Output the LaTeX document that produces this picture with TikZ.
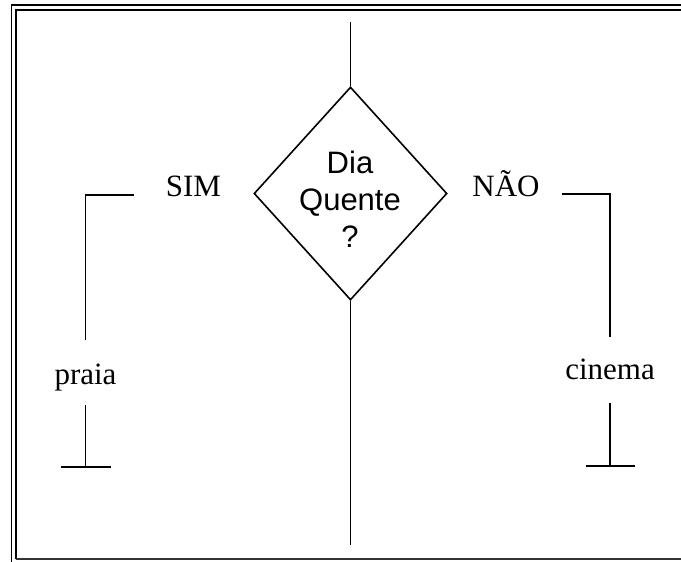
\documentclass[tikz,border=0pt]{standalone}
\usepackage{fontspec}
\setmainfont{Liberation Serif}
\newfontfamily\arialf{Liberation Sans}
\usetikzlibrary{shapes.geometric}
\begin{document}
\begin{tikzpicture}[x=1pt,y=-1pt,
  ln/.style={line width=1.6pt, black},
  bd/.style={line width=1.8pt, black},
  lbl/.style={font=\fontsize{31}{37}\selectfont, inner sep=0pt, anchor=base},
  dec/.style={diamond, draw, line width=1.6pt, minimum width=193pt, minimum height=213pt, inner sep=0pt}]
\useasboundingbox (0,0) rectangle (681,562);
% border
\draw[bd] (11.5,562) -- (11.5,5) -- (681,5);
\draw[bd] (16,559) -- (16,10) -- (681,10);
\draw[line width=1.4pt, black!80] (16,559) -- (681,559);
% decision
\node[dec] (d) at (350.5,193.5) {};
\node[font=\arialf\fontsize{31}{37}\selectfont, align=center, inner sep=0pt] (dt) at (350,199) {Dia\\Quente\\?};
\coordinate (top) at (350.5,22);
\coordinate (bot) at (350.5,545);
\draw[ln] (top) -- (d.north);
\draw[ln] (d.south) -- (bot);
% labels
\node[lbl] (sim) at (193.5,196.5) {SIM};
\node[lbl] (nao) at (506,196.5) {NÃO};
\node[lbl] (praia) at (85.5,384) {praia};
\node[lbl] (cinema) at (610,379) {cinema};
% left branch
\coordinate (l1) at (134,195);
\coordinate (l2) at (85.5,195);
\coordinate (l3) at (85.5,340);
\coordinate (l4) at (85.5,405);
\coordinate (l5) at (85.5,467);
\coordinate (l6) at (61,467);
\coordinate (l7) at (111,467);
\draw[ln] (l1) -- (l2) -- (l3);
\draw[ln] (l4) -- (l5);
\draw[ln] (l6) -- (l7);
% right branch
\coordinate (r1) at (562,194);
\coordinate (r2) at (610,194);
\coordinate (r3) at (610,337);
\coordinate (r4) at (610,403);
\coordinate (r5) at (610,466);
\coordinate (r6) at (586,466);
\coordinate (r7) at (635,466);
\draw[ln] (r1) -- (r2) -- (r3);
\draw[ln] (r4) -- (r5);
\draw[ln] (r6) -- (r7);
\end{tikzpicture}
\end{document}
